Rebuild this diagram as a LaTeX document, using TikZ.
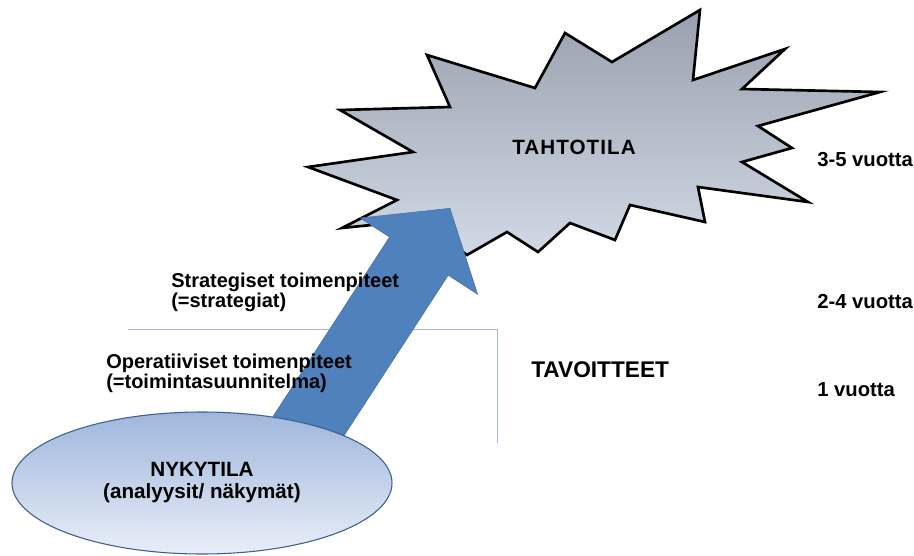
\documentclass[tikz,border=0pt]{standalone}
\usepackage{fontspec}
\setmainfont{Liberation Sans}
\usetikzlibrary{shapes.geometric}

\definecolor{startop}{HTML}{9AA1AE}
\definecolor{starbot}{HTML}{D0D9E5}
\definecolor{nykytop}{HTML}{9FB6DC}
\definecolor{nykybot}{HTML}{E8EEF7}
\definecolor{nykyline}{HTML}{3D5F8C}
\definecolor{arrowblue}{HTML}{4F81BD}
\definecolor{arrowline}{HTML}{43709F}
\definecolor{rajaline}{HTML}{A7B8D2}

\tikzset{
  lbl/.style={font=\bfseries\fontsize{15}{15}\selectfont, align=left, inner sep=0pt},
  aika/.style={font=\bfseries\fontsize{15.2}{16}\selectfont, anchor=west, inner sep=0pt},
}

\begin{document}
\begin{tikzpicture}[x=0.75pt,y=-0.75pt]
    \useasboundingbox (0,0) rectangle (914,556);
    % raja
    \draw[rajaline, thin] (128,329) -- (497,329) -- (497,443);
    % tahtotila
    \draw[line width=2pt, line join=miter, top color=startop, bottom color=starbot]
        (340,110) -- (450,107) -- (427,55) -- (535,88) -- (565,33) -- (612,62)
        -- (700,10) -- (693,80) -- (785,49) -- (742,89) -- (880,92) -- (758,126)
        -- (792,148) -- (742,162) -- (808,202) -- (698,187) -- (705,222) -- (630,205)
        -- (615,240) -- (570,223) -- (538,252) -- (507,232) -- (467,255) -- (420,220)
        -- (342,228) -- (397,200) -- (308,167) -- (413,152) -- cycle;
    % nuoli
    \begin{scope}[shift={(280,470)}, rotate=57]
        \filldraw[fill=arrowblue, draw=arrowline, thin]
            (0,-35) -- (255,-35) -- (255,-70) -- (312,0) -- (255,70) -- (255,35) -- (0,35) -- cycle;
    \end{scope}
    \node[ellipse, draw=nykyline, thick, top color=nykytop, bottom color=nykybot,
          minimum width=285pt, minimum height=106.5pt, align=center, inner sep=0pt,
          font=\bfseries\fontsize{15.5}{16.5}\selectfont] (nyky) at (202,483)
          {NYKYTILA\\(analyysit/ näkymät)};
    \node[font=\bfseries\fontsize{15.5}{16}\selectfont\addfontfeatures{LetterSpace=5}] (tahto) at (574,147) {TAHTOTILA};
    \node[aika, font=\bfseries\fontsize{17}{17}\selectfont] (tavo) at (531,370) {TAVOITTEET};
    \node[lbl, anchor=west] (strat) at (171,292) {Strategiset toimenpiteet\\(=strategiat)};
    \node[lbl, anchor=west] (oper) at (106,373) {Operatiiviset toimenpiteet\\(=toimintasuunnitelma)};
    \node[aika] (v35) at (817,160) {3-5 vuotta};
    \node[aika] (v24) at (817,302) {2-4 vuotta};
    \node[aika] (v1) at (817,390) {1 vuotta};
\end{tikzpicture}
\end{document}
